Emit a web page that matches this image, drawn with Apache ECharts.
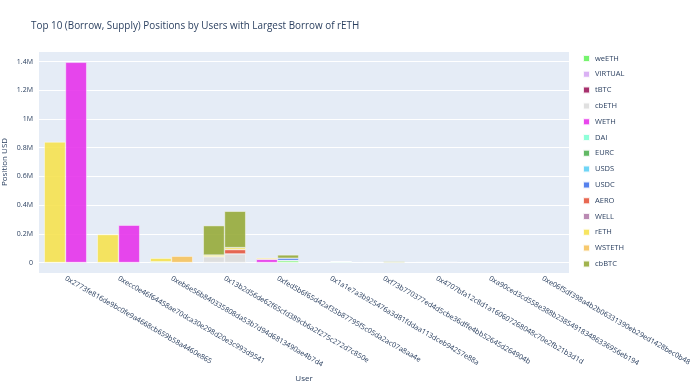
<!DOCTYPE html>
<html>
<head>
<meta charset="utf-8">
<script src="https://cdn.jsdelivr.net/npm/echarts@6/dist/echarts.min.js"></script>
<style>html,body{margin:0;padding:0;background:#fff;}#chart{width:690px;height:384px;}</style>
</head>
<body>
<div id="chart"></div>
<script>
const users = [
  "0x2773fe816de9bc0fe9a4668cb659b58a4460e865",
  "0xecc0e46f64458ae70dca30e298d20e3c993d9541",
  "0xeb6e56b840335808da53b7d94d6813490ae4b7d4",
  "0x13b2d56de62f65cfd389cb6a2f275c272d7c850e",
  "0xfed5b6f65d42af35b87795f5c05da2ac07a8aa4e",
  "0x1a1e7a3b925476a3d81fddaa113dceb94257e88a",
  "0xf73b770377ed4d5cbe36dffe4bb52645d264904b",
  "0x4707bfa12c8d1a160607268048c70e2fb21b3d1d",
  "0xa90ced3cd558e388b238549183486336956eb194",
  "0xe06f5df398a4b2b06331390eb29ed1428bec0b48"
];
const tokens = ["weETH","VIRTUAL","tBTC","cbETH","WETH","DAI","EURC","USDS","USDC","AERO","WELL","rETH","WSTETH","cbBTC"];
const yTicks = [0, 200000, 400000, 600000, 800000, 1000000, 1200000, 1400000];

// borrow values per token (USD), one per user
const weETH_borrow   = [0, 0, 5000, 0, 0, 0, 0, 0, 0, 0];
const VIRTUAL_borrow = [0, 0, 0, 0, 0, 0, 0, 0, 0, 0];
const tBTC_borrow    = [0, 0, 0, 0, 0, 0, 0, 0, 0, 0];
const cbETH_borrow   = [0, 0, 0, 40000, 0, 0, 0, 0, 0, 0];
const WETH_borrow    = [0, 0, 0, 0, 22000, 0, 0, 0, 0, 0];
const DAI_borrow     = [0, 0, 0, 0, 0, 0, 0, 0, 0, 0];
const EURC_borrow    = [0, 0, 0, 0, 0, 0, 0, 0, 0, 0];
const USDS_borrow    = [0, 0, 0, 0, 0, 0, 0, 0, 0, 0];
const USDC_borrow    = [0, 0, 0, 0, 0, 0, 0, 0, 0, 0];
const AERO_borrow    = [0, 0, 0, 0, 0, 0, 0, 0, 0, 0];
const WELL_borrow    = [0, 0, 0, 0, 0, 0, 0, 0, 0, 0];
const rETH_borrow    = [840000, 195000, 25000, 12000, 9000, 3000, 2500, 2000, 1500, 1200];
const WSTETH_borrow  = [0, 0, 0, 0, 0, 0, 0, 0, 0, 0];
const cbBTC_borrow   = [0, 0, 0, 205000, 0, 0, 0, 0, 0, 0];

// supply values per token (USD), one per user
const weETH_supply   = [0, 0, 0, 0, 12000, 0, 0, 0, 0, 0];
const VIRTUAL_supply = [0, 0, 0, 0, 0, 0, 0, 4000, 0, 0];
const tBTC_supply    = [0, 0, 0, 0, 0, 0, 0, 0, 0, 500];
const cbETH_supply   = [0, 0, 0, 60000, 0, 0, 0, 0, 0, 0];
const WETH_supply    = [1395000, 260000, 0, 0, 0, 0, 0, 0, 0, 0];
const DAI_supply     = [0, 0, 0, 0, 0, 5000, 0, 0, 0, 0];
const EURC_supply    = [0, 0, 0, 0, 0, 1000, 0, 0, 0, 0];
const USDS_supply    = [0, 0, 0, 0, 3000, 2000, 0, 0, 0, 0];
const USDC_supply    = [0, 0, 0, 0, 15000, 0, 0, 0, 0, 0];
const AERO_supply    = [0, 0, 0, 30000, 0, 0, 0, 0, 0, 0];
const WELL_supply    = [0, 0, 0, 0, 0, 0, 0, 0, 800, 0];
const rETH_supply    = [0, 0, 0, 14000, 0, 0, 0, 0, 0, 0];
const WSTETH_supply  = [0, 0, 44000, 0, 0, 0, 0, 0, 0, 0];
const cbBTC_supply   = [0, 0, 0, 253000, 23000, 0, 7000, 0, 0, 0];

const borrowData = {weETH:weETH_borrow, VIRTUAL:VIRTUAL_borrow, tBTC:tBTC_borrow, cbETH:cbETH_borrow, WETH:WETH_borrow, DAI:DAI_borrow, EURC:EURC_borrow, USDS:USDS_borrow, USDC:USDC_borrow, AERO:AERO_borrow, WELL:WELL_borrow, rETH:rETH_borrow, WSTETH:WSTETH_borrow, cbBTC:cbBTC_borrow};
const supplyData = {weETH:weETH_supply, VIRTUAL:VIRTUAL_supply, tBTC:tBTC_supply, cbETH:cbETH_supply, WETH:WETH_supply, DAI:DAI_supply, EURC:EURC_supply, USDS:USDS_supply, USDC:USDC_supply, AERO:AERO_supply, WELL:WELL_supply, rETH:rETH_supply, WSTETH:WSTETH_supply, cbBTC:cbBTC_supply};

const colors = {weETH:'#63F25A', VIRTUAL:'#D5A6F2', tBTC:'#9B1459', cbETH:'#DCDCDC', WETH:'#E62EEB', DAI:'#7FFFD4', EURC:'#4CAF50', USDS:'#5BCFF5', USDC:'#3E6FEB', AERO:'#E5533A', WELL:'#B07AA8', rETH:'#F6E14B', WSTETH:'#F6C15A', cbBTC:'#94A834'};

const series = [];
tokens.forEach(t => {
  ['borrow','supply'].forEach(kind => {
    const src = kind === 'borrow' ? borrowData[t] : supplyData[t];
    series.push({
      name: t,
      type: 'bar',
      stack: kind,
      data: src.map(v => v === 0 ? '-' : v),
      barGap: '0%',
      barCategoryGap: '20%',
      itemStyle: {color: colors[t], opacity: 0.88, borderColor: '#ffffff', borderWidth: 0.5},
      emphasis: {disabled: true}
    });
  });
});

const chart = echarts.init(document.getElementById('chart'), null, {renderer: 'canvas'});
const fam = '"Open Sans", "Noto Sans", sans-serif';
chart.setOption({
  animation: false,
  textStyle: {fontFamily: fam},
  title: {
    text: 'Top 10 (Borrow, Supply) Positions by Users with Largest Borrow of rETH',
    left: 31, top: 21, padding: 0,
    textStyle: {fontSize: 9.9, fontWeight: 'normal', color: '#2a3f5f', fontFamily: fam}
  },
  legend: {
    orient: 'vertical', left: 582, top: 54, padding: 0,
    itemWidth: 7, itemHeight: 7, itemGap: 6.8, icon: 'rect',
    data: tokens,
    textStyle: {fontSize: 7.5, color: '#2a3f5f', fontFamily: fam}
  },
  grid: {left: 39, right: 121, top: 51, bottom: 111, show: true, backgroundColor: '#E5ECF6', borderWidth: 0, containLabel: false, outerBoundsMode: 'none'},
  xAxis: {
    type: 'category', data: users,
    name: 'User', nameLocation: 'middle', nameGap: 102, nameMoveOverlap: false,
    nameTextStyle: {fontSize: 8, color: '#2a3f5f', fontFamily: fam},
    axisLine: {show: false}, axisTick: {show: false},
    axisLabel: {rotate: -30, fontSize: 7.2, color: '#2a3f5f', margin: 5, interval: 0, fontFamily: fam}
  },
  yAxis: {
    type: 'value', min: -73000, max: 1474000, splitNumber: 7,
    name: 'Position USD', nameLocation: 'middle', nameGap: 30, nameRotate: 90, nameMoveOverlap: false,
    nameTextStyle: {fontSize: 8, color: '#2a3f5f', fontFamily: fam},
    axisLine: {show: false}, axisTick: {show: false},
    splitLine: {lineStyle: {color: '#ffffff', width: 1}},
    axisLabel: {
      fontSize: 7, color: '#2a3f5f', margin: 6, showMinLabel: false, showMaxLabel: false, fontFamily: fam,
      formatter: v => {
        if (yTicks.indexOf(v) < 0) return '';
        if (v === 0) return '0';
        return (v / 1e6).toString() + 'M';
      }
    }
  },
  series: series
});
</script>
</body>
</html>
